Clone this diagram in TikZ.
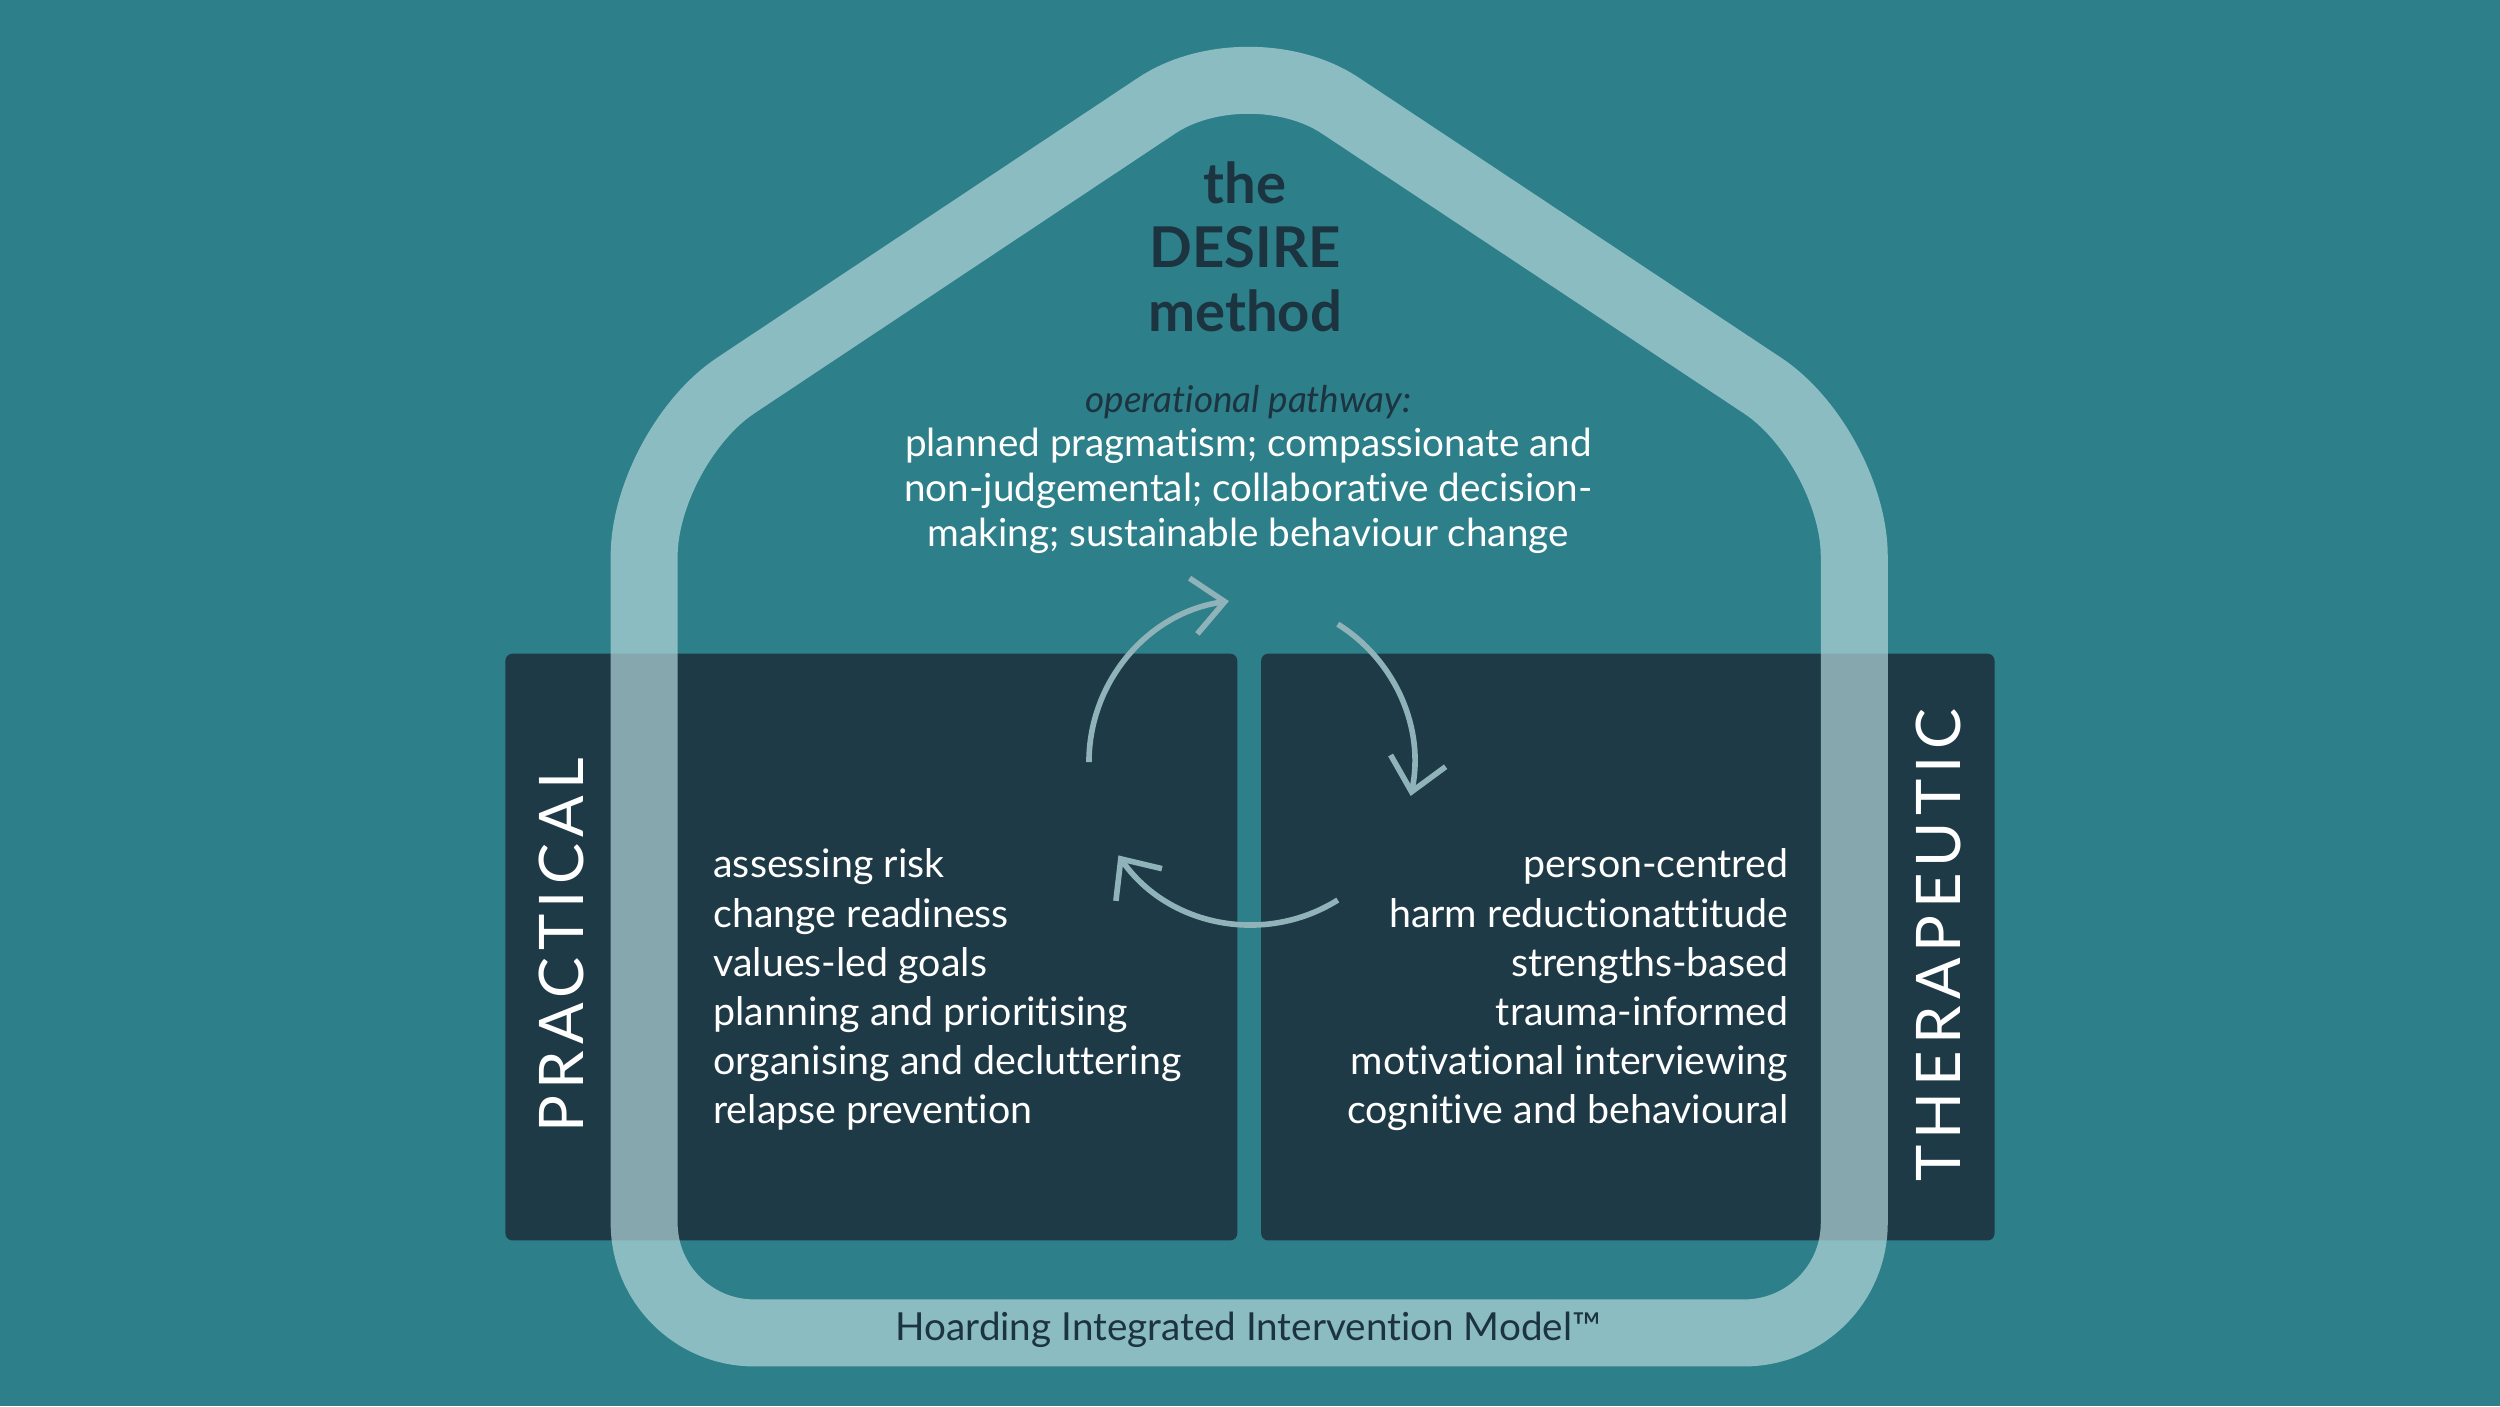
\documentclass[tikz,border=0pt]{standalone}
\usepackage{fontspec}
\setmainfont{Lato}[RawFeature={-liga;-dlig;-clig;-calt}]
\usetikzlibrary{arrows.meta}
\definecolor{bgteal}{HTML}{2D7F8A}
\definecolor{boxdark}{HTML}{1F3A47}
\definecolor{houseline}{HTML}{B4D6DA}
\definecolor{inkdark}{HTML}{1C3340}
\definecolor{arrowgrey}{HTML}{8FB3B8}
\tikzset{
  box/.style={fill=boxdark, rounded corners=2pt},
  house/.style={draw=houseline, draw opacity=0.7, line width=0.67cm, rounded corners=1.1cm},
  cyc/.style={draw=arrowgrey, line width=1.6pt, -{Straight Barb[length=9pt,width=16pt,line width=1.6pt]}},
  list/.style={text=white, font=\fontsize{11.2}{14}\selectfont, inner sep=0pt},
  side/.style={text=white, font=\fontsize{17.5}{20}\selectfont\addfontfeatures{LetterSpace=10}, inner sep=0pt},
}
\begin{document}
\begin{tikzpicture}[x=0.015944cm,y=-0.015944cm]
\useasboundingbox (0,0) rectangle (1568,882);
\fill[bgteal] (0,0) rectangle (1568,882);

% the two panels
\fill[box] (317,410) rectangle (776,778);
\fill[box] (791,410) rectangle (1251,778);

% house outline
\draw[house] (404,836) -- (404,280) -- (783,28) -- (1163,280) -- (1163,836) -- cycle;

% title
\node[font=\fontsize{16}{18.2}\selectfont\bfseries, text=inkdark, align=center, inner sep=0pt] (title) at (781,155) {the\\DESIRE\\method};

\node[font=\fontsize{10.5}{13}\selectfont\itshape, text=inkdark, inner sep=0pt] (pathway) at (783,252) {operational pathway:};
\node[font=\fontsize{11}{12.8}\selectfont, text=white, align=center, inner sep=0pt, anchor=north] (pathtext) at (783,268)
  {planned pragmatism; compassionate and\\non-judgemental; collaborative decision-\\making; sustainable behaviour change};

% cycle arrows
\coordinate (c) at (785,478);
\draw[cyc] ([shift={(180:102)}]c) arc[start angle=180, end angle=262, radius=102];
\draw[cyc] ([shift={(-58:102)}]c) arc[start angle=-58, end angle=12, radius=102];
\draw[cyc] ([shift={(58:102)}]c) arc[start angle=58, end angle=145, radius=102];

% panel texts
\node[list, align=left, anchor=north west] (practlist) at (447,532)
  {assessing risk\\change readiness\\values-led goals\\planning and prioritising\\organising and decluttering\\relapse prevention};
\node[list, align=right, anchor=north east] (theralist) at (1122,532)
  {person-centred\\harm reductionattitude\\strengths-based\\trauma-informed\\motivational interviewing\\cognitive and behavioural};

\node[side, rotate=90] (practical) at (352,593) {PRACTICAL};
\node[side, rotate=90] (therapeutic) at (1216,593) {THERAPEUTIC};

\node[font=\fontsize{11}{13}\selectfont, text=inkdark, inner sep=0pt] (model) at (783,834) {Hoarding Integrated Intervention Model™};
\end{tikzpicture}
\end{document}
